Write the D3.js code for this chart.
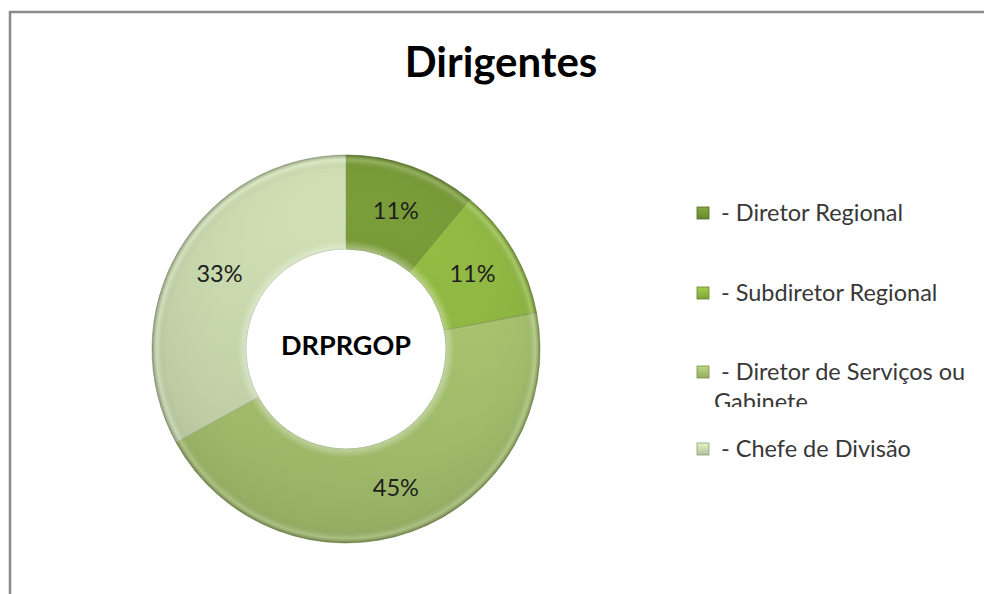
<!DOCTYPE html>
<html><head><meta charset="utf-8">
<script src="https://cdn.jsdelivr.net/npm/d3@7"></script>
<style>body{margin:0;background:#fff}svg{display:block}</style>
</head><body>
<svg id="c" width="984" height="594"></svg>
<script>
const title = "Dirigentes";
const centerLabel = "DRPRGOP";
const categories = ["- Diretor Regional", "- Subdiretor Regional", "- Diretor de Serviços ou Gabinete", "- Chefe de Divisão"];
const legendLines = [["- Diretor Regional"], ["- Subdiretor Regional"], ["- Diretor de Serviços ou", "Gabinete"], ["- Chefe de Divisão"]];
const values = [11, 11, 45, 33];
const labels = ["11%", "11%", "45%", "33%"];
const colors = ["#739535", "#8db440", "#a3bf6c", "#c6d6ab"];

const svg = d3.select("#c");
const font = "Lato, 'Open Sans', sans-serif";
const defs = svg.append("defs");

// frame
svg.append("path").attr("d", "M10,594 L10,12 L984,12")
  .attr("fill", "none").attr("stroke", "#8a8a8a").attr("stroke-width", 2.5);

svg.append("text").attr("x", 501).attr("y", 77).attr("text-anchor", "middle")
  .attr("font-family", font).attr("font-weight", "bold").attr("font-size", 42)
  .attr("fill", "#000").text(title);

const cx = 346, cy = 349, R = 194, r = 100;
const g = svg.append("g").attr("transform", `translate(${cx},${cy})`);

// per-slice vertical gradients (lighter top, darker bottom)
colors.forEach((c, i) => {
  const base = d3.color(c);
  const lgi = defs.append("linearGradient").attr("id", "lg" + i)
    .attr("gradientUnits", "userSpaceOnUse").attr("x1", 0).attr("y1", -R).attr("x2", -R * 0.35).attr("y2", R);
  lgi.append("stop").attr("offset", 0).attr("stop-color", base.brighter(0.2).formatHex());
  lgi.append("stop").attr("offset", 1).attr("stop-color", base.darker(0.22).formatHex());
});
// bevel overlay
const bev = defs.append("radialGradient").attr("id", "bevel")
  .attr("gradientUnits", "userSpaceOnUse").attr("cx", 0).attr("cy", 0).attr("r", R);
[[r / R, "#fff", 0.35], [r / R + 0.045, "#fff", 0], [0.93, "#000", 0.03], [0.975, "#fff", 0.18], [1, "#000", 0.3]]
  .forEach(([o, col, op]) => bev.append("stop").attr("offset", o).attr("stop-color", col).attr("stop-opacity", op));

const pie = d3.pie().sort(null).value(d => d);
const arcs = pie(values);
const arc = d3.arc().innerRadius(r).outerRadius(R);

g.selectAll("path.s").data(arcs).join("path").attr("class", "s")
  .attr("d", arc).attr("fill", (d, i) => `url(#lg${i})`)
  .attr("stroke", (d, i) => d3.color(colors[i]).darker(0.7).formatHex()).attr("stroke-width", 1).attr("stroke-opacity", 0.6);
g.selectAll("path.b").data(arcs).join("path").attr("class", "b")
  .attr("d", arc).attr("fill", "url(#bevel)").attr("stroke", "none");

const labelArc = d3.arc().innerRadius((r + R) / 2).outerRadius((r + R) / 2);
g.selectAll("text.l").data(arcs).join("text").attr("class", "l")
  .attr("transform", d => `translate(${labelArc.centroid(d)})`)
  .attr("text-anchor", "middle").attr("dy", "0.35em")
  .attr("font-family", font).attr("font-size", 23.5).attr("fill", "#1e1e1e")
  .text((d, i) => labels[i]);

g.append("text").attr("x", 0).attr("y", -3).attr("dy", "0.35em").attr("text-anchor", "middle")
  .attr("font-family", font).attr("font-weight", "bold").attr("font-size", 27).attr("fill", "#000").text(centerLabel);

// legend
defs.append("clipPath").attr("id", "legclip").append("rect").attr("x", 0).attr("y", 0).attr("width", 984).attr("height", 407);
const ly = [213, 293, 372, 449];
const leg = svg.append("g");
categories.forEach((c, i) => {
  const y = ly[i];
  const base = d3.color(colors[i]);
  const mg = defs.append("linearGradient").attr("id", "mg" + i).attr("x1", 0).attr("y1", 0).attr("x2", 0).attr("y2", 1);
  mg.append("stop").attr("offset", 0).attr("stop-color", base.brighter(0.4).formatHex());
  mg.append("stop").attr("offset", 1).attr("stop-color", base.darker(0.3).formatHex());
  leg.append("rect").attr("x", 697).attr("y", y - 6).attr("width", 12).attr("height", 12)
    .attr("fill", `url(#mg${i})`).attr("stroke", base.darker(0.9).formatHex()).attr("stroke-width", 0.8);
  legendLines[i].forEach((t, j) => {
    const tx = leg.append("text").attr("x", j === 0 ? 721 : 714).attr("y", y + j * 30).attr("dy", "0.35em")
      .attr("font-family", font).attr("font-size", 23.5).attr("fill", "#383838").text(t);
    if (j > 0) tx.attr("clip-path", "url(#legclip)");
  });
});
</script>
</body></html>
